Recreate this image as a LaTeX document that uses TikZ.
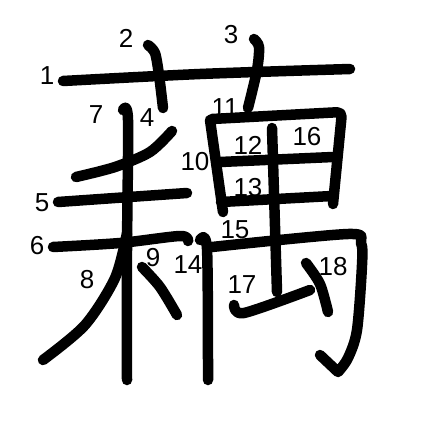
\documentclass[tikz,border=0pt]{standalone}
\usepackage{fontspec}
\setmainfont{Liberation Sans}
\usepackage{tikz}
\usetikzlibrary{arrows.meta, positioning, calc}
\definecolor{inkblack}{HTML}{000000}

\begin{document}
\begin{tikzpicture}[x=1pt, y=-1pt,
    brush/.style={draw=inkblack, line width=10.5pt, line cap=round, line join=round},
    num/.style={inner sep=0pt, font=\fontsize{26}{26}\selectfont}]
  \useasboundingbox (0,0) rectangle (447,447);
  % grass radical
  \draw[brush] plot[smooth] coordinates {(63,81) (200,74) (350,69)};
  \draw[brush] plot[smooth] coordinates {(148,45) (155,53) (159,75) (163,108)};
  \draw[brush] plot[smooth] coordinates {(254,39) (259,47) (257,70) (248,108)};
  % left part
  \draw[brush] plot[smooth] coordinates {(172,131) (150,152) (115,167) (76,177)};
  \draw[brush] plot[smooth] coordinates {(58,202) (115,198) (187,193)};
  \draw[brush] plot[smooth] coordinates {(53,247) (120,243) (180,236) (188,241)};
  \draw[brush] plot[smooth] coordinates {(123,110) (128,120) (127,250) (127,380)};
  \draw[brush] plot[smooth] coordinates {(127,233) (115,278) (85,325) (43,360)};
  \draw[brush] plot[smooth] coordinates {(142,267) (160,287) (177,315)};
  % right part, box
  \draw[brush] (210,120) -- (223,212);
  \draw[brush, rounded corners=5pt] (212,119) -- (342,112) -- (333,204);
  \draw[brush] (220,162) -- (333,157);
  \draw[brush] (221,202) -- (332,196);
  % frame and hook
  \draw[brush] plot[smooth] coordinates {(200,240) (207,249) (208,380)};
  \draw[brush] plot[smooth, tension=0.5] coordinates {(212,247) (348,234) (361,243)
      (362,265) (357,330) (348,358) (338,372)} -- (320,355);
  \draw[brush] (272,128) -- (277,292);
  \draw[brush] plot[smooth] coordinates {(234,305) (244,313) (310,290)};
  \draw[brush] plot[smooth] coordinates {(306,263) (320,284) (328,312)};
  % stroke numbers
  \foreach \n/\x/\y in {1/47/76, 2/126/38, 3/231/35, 4/147/118, 5/42/203,
                        6/37/246, 7/96/115, 8/87/280, 9/153/258, 10/195/162,
                        11/225/108, 12/248/145, 13/248/188, 14/188/265,
                        15/235/230, 16/307/137, 17/242/285, 18/333/267}
    \node[num] (s\n) at (\x,\y) {\n};
\end{tikzpicture}
\end{document}
